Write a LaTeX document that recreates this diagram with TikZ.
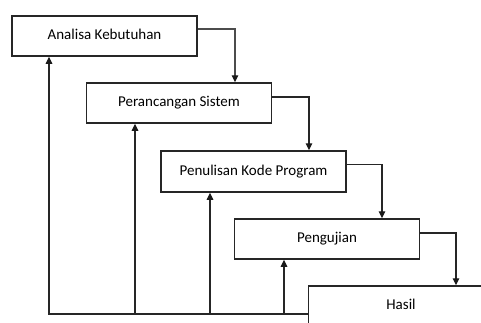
\documentclass[tikz,border=0pt]{standalone}
\usepackage{fontspec}
\setmainfont{Carlito}
\usetikzlibrary{arrows.meta,calc}
\begin{document}
\begin{tikzpicture}[x=1pt,y=-1pt,
  box/.style={draw=black!85,line width=1.5pt,minimum width=185pt,minimum height=40pt,inner sep=0pt,font=\fontsize{15}{18}\selectfont,text=black},
  arr/.style={draw=black!85,line width=1.2pt,-{Triangle[length=7pt,width=6.5pt,color=black!90]}},
  ln/.style={draw=black!85,line width=1.2pt}]
\useasboundingbox (0,0) rectangle (481,322);
\clip (0,0) rectangle (481,322);
\node[box] (b1) at (104.5,36) {\raisebox{3pt}{Analisa Kebutuhan}};
\node[box] (b2) at (179,103) {\raisebox{3pt}{Perancangan Sistem}};
\node[box,minimum height=41pt] (b3) at (253.5,171.5) {\raisebox{3pt}{Penulisan Kode Program}};
\node[box] (b4) at (327,239) {\raisebox{3pt}{Pengujian}};
\node[box] (b5) at (401,306) {\raisebox{3pt}{Hasil}};
\coordinate (base) at (0,314);
\draw[arr,draw=black!70] ([yshift=7pt]b1.east) -| ([xshift=56pt]b2.north);
\draw[arr] ([yshift=6pt]b2.east) -| ([xshift=55.5pt]b3.north);
\draw[arr] ([yshift=7pt]b3.east) -| ([xshift=55pt]b4.north);
\draw[arr] ([yshift=6pt]b4.east) -| ([xshift=55pt]b5.north);
\draw[arr] (b5.west |- base) -| ([xshift=-55.5pt]b1.south);
\draw[arr] ([xshift=-44pt]b2.south |- base) -- ([xshift=-44pt]b2.south);
\draw[arr] ([xshift=-43.5pt]b3.south |- base) -- ([xshift=-43.5pt]b3.south);
\draw[arr] ([xshift=-43pt]b4.south |- base) -- ([xshift=-43pt]b4.south);
\end{tikzpicture}
\end{document}
